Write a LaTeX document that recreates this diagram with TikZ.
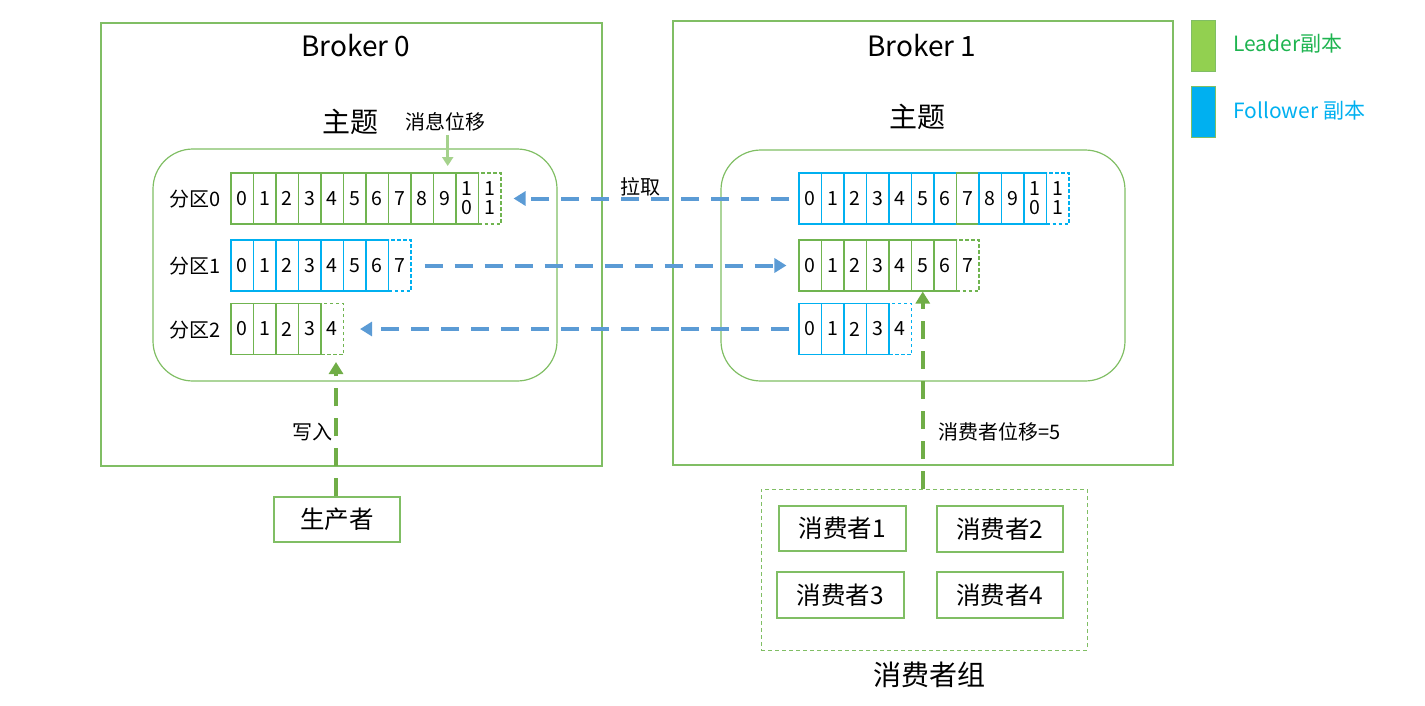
\documentclass[tikz,border=0pt]{standalone}
\usepackage{fontspec}
\setmainfont{Noto Sans CJK SC}
\usetikzlibrary{arrows.meta}
\definecolor{gline}{RGB}{128,190,100}
\definecolor{cgreen}{RGB}{112,180,80}
\definecolor{cblue}{RGB}{0,176,240}
\definecolor{ablue}{RGB}{91,155,213}
\definecolor{agreen}{RGB}{112,173,71}
\definecolor{lgarrow}{RGB}{165,210,140}
\definecolor{lgfill}{RGB}{146,208,80}
\definecolor{leadtxt}{RGB}{30,180,80}
\definecolor{foltxt}{RGB}{0,176,240}
\begin{document}
\begin{tikzpicture}[x=1pt,y=-1pt,
  box/.style={draw=gline,line width=1.2pt,inner sep=0pt},
  cell/.style={line width=1.1pt,minimum width=22.5pt,minimum height=51pt,inner sep=0pt,
    font=\fontsize{19.5}{19}\selectfont,align=center},
  lc/.style={cell,draw=cgreen},
  fc/.style={cell,draw=cblue},
  lcd/.style={lc,dash pattern=on 3.5pt off 2.5pt},
  fcd/.style={fc,dash pattern=on 3.5pt off 2.5pt},
  pull/.style={draw=ablue,line width=4pt,dash pattern=on 18pt off 12pt,
    -{Triangle[length=12pt,width=14pt]}},
  push/.style={draw=agreen,line width=4pt,dash pattern=on 18pt off 12pt,
    -{Triangle[length=12pt,width=14pt]}},
  lbl/.style={font=\fontsize{20}{22}\selectfont},
  title/.style={font=\fontsize{28}{30}\selectfont},
  person/.style={box,minimum width=126pt,minimum height=45pt,font=\fontsize{24.5}{26}\selectfont}
]
\useasboundingbox (0,0) rectangle (1425,705);

% brokers
\node[box,minimum width=501pt,minimum height=443pt] (B0) at (351.5,244.5) {};
\node[box,minimum width=500pt,minimum height=444pt] (B1) at (923,243) {};
\node[title] (B0t) at (356,46) {Broker 0};
\node[title] (B1t) at (922,46) {Broker 1};

% topics
\node[box,rounded corners=40pt,minimum width=404pt,minimum height=232pt] (T0) at (355,265) {};
\node[box,rounded corners=40pt,minimum width=404pt,minimum height=231pt] (T1) at (923,265.5) {};
\node[title] (T0t) at (350,122) {主题};
\node[title] (T1t) at (917,117) {主题};

% partition labels
\node[lbl] (P0) at (195,199) {分区0};
\node[lbl] (P1) at (195,266) {分区1};
\node[lbl] (P2) at (195,330) {分区2};

% left cells
\foreach \i/\lab/\s in {0/0/lc,1/1/lc,2/2/lc,3/3/lc,4/4/lc,5/5/lc,6/6/lc,7/7/lc,8/8/lc,9/9/lc,10/{1\\0}/lc,11/{1\\1}/lcd}
  \node[\s] (LA-\i) at ({231+22.5*(\i+0.5)},198.5) {\lab};
\foreach \i/\lab/\s in {0/0/fc,1/1/fc,2/2/fc,3/3/fc,4/4/fc,5/5/fc,6/6/fc,7/7/fcd}
  \node[\s] (LB-\i) at ({231+22.5*(\i+0.5)},265.5) {\lab};
\foreach \i/\lab/\s in {0/0/lc,1/1/lc,2/2/lc,3/3/lc,4/4/lcd}
  \node[\s] (LC-\i) at ({231+22.5*(\i+0.5)},329) {\lab};

% right cells
\foreach \i/\lab/\s in {0/0/fc,1/1/fc,2/2/fc,3/3/fc,4/4/fc,5/5/fc,6/6/fc,7/7/lc,8/8/fc,9/9/fc,10/{1\\0}/fc,11/{1\\1}/fcd}
  \node[\s] (RA-\i) at ({799+22.5*(\i+0.5)},198.5) {\lab};
\foreach \i/\lab/\s in {0/0/lc,1/1/lc,2/2/lc,3/3/lc,4/4/lc,5/5/lc,6/6/lc,7/7/lcd}
  \node[\s] (RB-\i) at ({799+22.5*(\i+0.5)},265.5) {\lab};
\foreach \i/\lab/\s in {0/0/fc,1/1/fc,2/2/fc,3/3/fc,4/4/fcd}
  \node[\s] (RC-\i) at ({799+22.5*(\i+0.5)},329) {\lab};

% message offset
\node[lbl] (off) at (445,122) {消息位移};
\coordinate (offtip) at (447.7,166);
\draw[draw=lgarrow,line width=2.5pt,-{Triangle[length=9pt,width=11pt]}] (offtip |- off.south) -- (offtip);

% replication arrows
\draw[pull] ([xshift=-9pt]RA-0.west) -- ([xshift=12pt]LA-11.east);
\node[lbl] (pullt) at (640,187) {拉取};
\draw[pull] ([xshift=13pt]LB-7.east) -- ([xshift=-12pt]RB-0.west);
\draw[pull] ([xshift=-9pt]RC-0.west) -- ([xshift=16pt]LC-4.east);

% producer
\node[person] (prod) at (337,519.5) {生产者};
\coordinate (ptip) at (336,362);
\draw[push] (ptip |- prod.north) -- (ptip);
\node[lbl] (wt) at (312,432) {写入};

% consumer group
\node[draw=gline,line width=1pt,dash pattern=on 4pt off 3pt,minimum width=326pt,minimum height=161pt] (grp) at (924,569.5) {};
\node[person,minimum width=127pt] (c1) at (842.5,528.5) {消费者1};
\node[person,minimum height=46pt] (c2) at (1000,529) {消费者2};
\node[person,minimum width=127pt,minimum height=46pt] (c3) at (840.5,595) {消费者3};
\node[person,minimum height=46pt] (c4) at (1000,595) {消费者4};
\node[title] (grpt) at (929,675) {消费者组};
\draw[push] (RB-5.south |- grp.north) -- (RB-5.south);
\node[lbl,anchor=west,inner sep=0pt] (cot) at (938,432) {消费者位移=5};

% legend
\node[draw=gline,line width=1pt,fill=lgfill,minimum width=24pt,minimum height=51pt] (lg) at (1203,45.5) {};
\node[draw=gline,line width=1pt,fill=cblue,minimum width=24pt,minimum height=51pt] (lb) at (1203,112) {};
\node[lbl,anchor=west,text=leadtxt,inner sep=0pt,font=\fontsize{21}{22}\selectfont] (lgt) at (1233,44) {Leader副本};
\node[lbl,anchor=west,text=foltxt,inner sep=0pt,font=\fontsize{21}{22}\selectfont] (lbt) at (1233,111) {Follower 副本};
\end{tikzpicture}
\end{document}
